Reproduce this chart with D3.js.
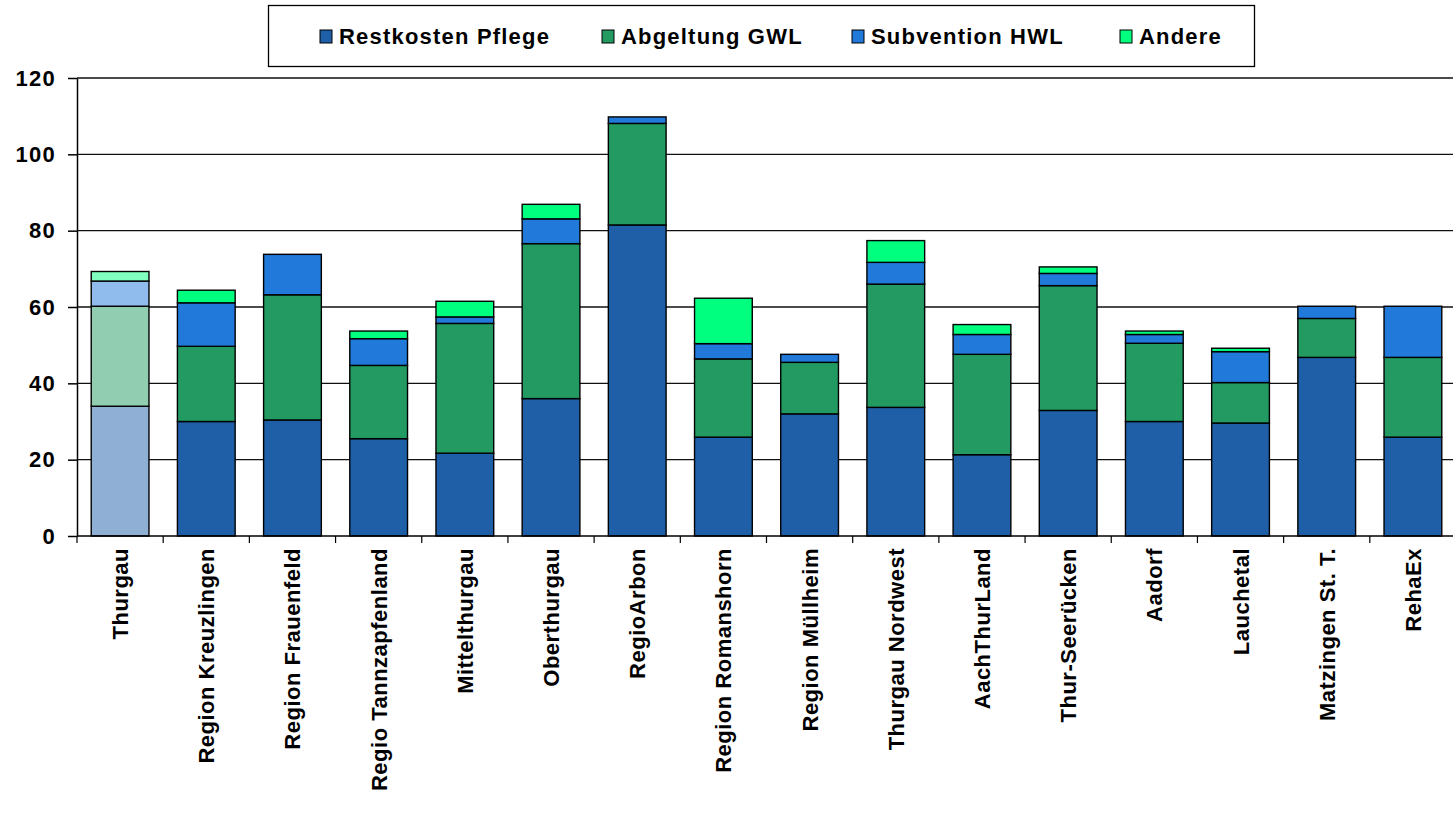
<!DOCTYPE html>
<html>
<head>
<meta charset="utf-8">
<script src="https://cdn.jsdelivr.net/npm/d3@7"></script>
<style>
  body { margin: 0; background: #fff; }
  svg text { font-family: "Liberation Sans", Arial, sans-serif; font-weight: bold; }
</style>
</head>
<body>
<svg id="chart"></svg>
<script>
// categories and series values
const categories = ["Thurgau", "Region Kreuzlingen", "Region Frauenfeld", "Regio Tannzapfenland",
  "Mittelthurgau", "Oberthurgau", "RegioArbon", "Region Romanshorn", "Region Müllheim",
  "Thurgau Nordwest", "AachThurLand", "Thur-Seerücken", "Aadorf", "Lauchetal",
  "Matzingen St. T.", "RehaEx"];
const seriesNames = ["Restkosten Pflege", "Abgeltung GWL", "Subvention HWL", "Andere"];
const restkosten = [34.0, 30.0, 30.4, 25.5, 21.7, 36.0, 81.5, 25.9, 32.0, 33.7, 21.3, 32.9, 30.0, 29.6, 46.8, 25.9];
const abgeltung  = [26.2, 19.7, 32.8, 19.2, 34.0, 40.6, 26.6, 20.5, 13.5, 32.3, 26.3, 32.7, 20.5, 10.6, 10.2, 20.9];
const subvention = [6.6, 11.4, 10.6, 7.0, 1.7, 6.5, 1.7, 4.0, 2.1, 5.7, 5.2, 3.2, 2.3, 8.1, 3.2, 13.4];
const andere     = [2.5, 3.3, 0, 2.0, 4.1, 3.8, 0, 11.9, 0, 5.7, 2.6, 1.7, 0.9, 0.9, 0, 0];
const yTicks = [0, 20, 40, 60, 80, 100, 120];
const colors = ["#1F5FA8", "#229A62", "#2179DA", "#00FF7F"];

const width = 1453, height = 819;
const margin = { top: 78, right: -3, bottom: 283, left: 77 };

const svg = d3.select("#chart").attr("width", width).attr("height", height);

const x = d3.scaleBand().domain(categories)
  .range([margin.left, width - margin.right]).paddingInner(0.33).paddingOuter(0.165);
const y = d3.scaleLinear().domain([0, 120]).range([height - margin.bottom, margin.top]);

// table for stacking
const table = categories.map((c, i) => ({
  cat: c,
  "Restkosten Pflege": restkosten[i],
  "Abgeltung GWL": abgeltung[i],
  "Subvention HWL": subvention[i],
  "Andere": andere[i]
}));
const stacked = d3.stack().keys(seriesNames)(table);

// gridlines
svg.append("g")
  .selectAll("line")
  .data(yTicks.slice(1))
  .join("line")
  .attr("x1", margin.left).attr("x2", width)
  .attr("y1", d => y(d)).attr("y2", d => y(d))
  .attr("stroke", "#111").attr("stroke-width", 1.3);

// bars
svg.append("g")
  .selectAll("g")
  .data(stacked)
  .join("g")
  .each(function(layer, li) {
    d3.select(this).selectAll("rect")
      .data(layer.filter(d => d[1] - d[0] > 0))
      .join("rect")
      .attr("x", d => x(d.data.cat))
      .attr("width", x.bandwidth())
      .attr("y", d => y(d[1]))
      .attr("height", d => y(d[0]) - y(d[1]))
      .attr("fill", d => d.data.cat === "Thurgau"
        ? d3.interpolateRgb(colors[li], "#fff")(0.5) : colors[li])
      .attr("stroke", "#000")
      .attr("stroke-width", 1.4);
  });

// y axis
const yAxis = d3.axisLeft(y).tickValues(yTicks).tickSize(9).tickSizeOuter(0).tickPadding(12);
const yg = svg.append("g")
  .attr("transform", `translate(${margin.left},0)`)
  .call(yAxis);
yg.selectAll("text").attr("font-size", 22).attr("fill", "#000")
  .attr("letter-spacing", 1.3)
  .style("font-family", "'Liberation Sans', Arial, sans-serif").style("font-weight", "bold");
yg.selectAll("path, line").attr("stroke", "#000").attr("stroke-width", 1.5);

// x axis baseline + ticks between categories
svg.append("line")
  .attr("x1", margin.left).attr("x2", width)
  .attr("y1", y(0)).attr("y2", y(0))
  .attr("stroke", "#000").attr("stroke-width", 1.5);
const step = x.step();
svg.append("g")
  .selectAll("line")
  .data(categories)
  .join("line")
  .attr("x1", d => x(d) - x.paddingInner() * step / 2)
  .attr("x2", d => x(d) - x.paddingInner() * step / 2)
  .attr("y1", y(0)).attr("y2", y(0) + 7)
  .attr("stroke", "#000").attr("stroke-width", 1.2);

// x labels, rotated
svg.append("g")
  .selectAll("text")
  .data(categories)
  .join("text")
  .attr("transform", d => `translate(${x(d) + x.bandwidth() / 2 + 8},${y(0) + 12}) rotate(-90)`)
  .attr("text-anchor", "end")
  .attr("font-size", 22)
  .attr("letter-spacing", 0.5)
  .text(d => d);

// legend
const legend = svg.append("g");
legend.append("rect")
  .attr("x", 268.5).attr("y", 5.5).attr("width", 986).attr("height", 61)
  .attr("fill", "#fff").attr("stroke", "#000").attr("stroke-width", 1.3);
const legendX = [339, 621, 871, 1139];
seriesNames.forEach((name, i) => {
  legend.append("rect")
    .attr("x", legendX[i] - 19).attr("y", 30).attr("width", 12).attr("height", 13)
    .attr("fill", colors[i]).attr("stroke", "#000").attr("stroke-width", 1);
  legend.append("text")
    .attr("x", legendX[i]).attr("y", 44)
    .attr("font-size", 22)
    .attr("letter-spacing", 1.2)
    .text(name);
});
</script>
</body>
</html>
